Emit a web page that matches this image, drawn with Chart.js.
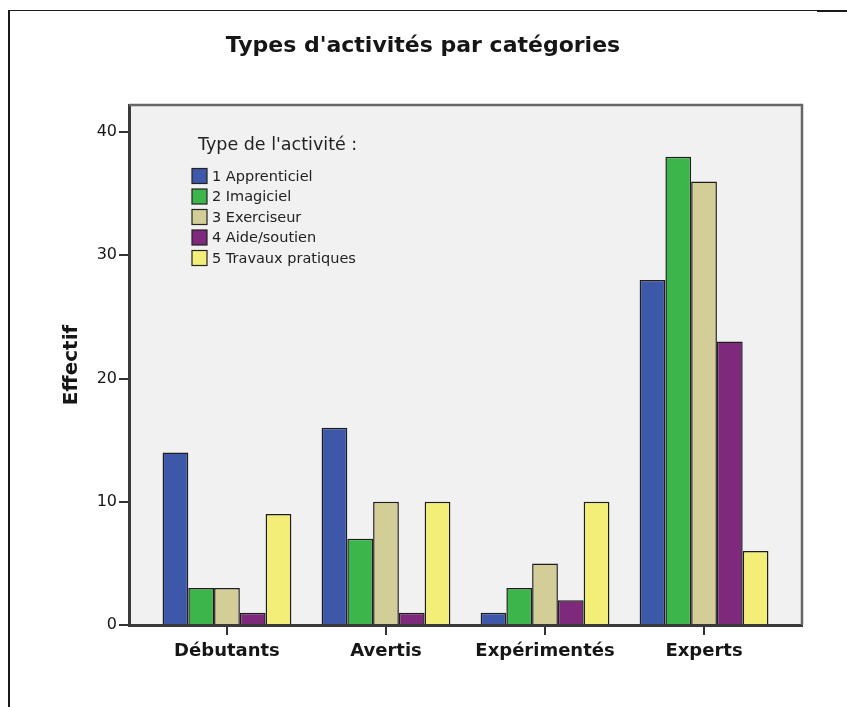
<!DOCTYPE html>
<html>
<head>
<meta charset="utf-8">
<script src="https://cdn.jsdelivr.net/npm/chart.js@4.4.1/dist/chart.umd.min.js"></script>
<style>
  html, body { margin: 0; padding: 0; background: #fff; }
  #wrap { position: relative; width: 847px; height: 707px; overflow: hidden; }
  #frame { position: absolute; left: 8px; top: 10px; width: 809px; height: 697px;
           border-left: 2px solid #1a1a1a; border-top: 1px solid #1a1a1a; }
  #frameTab { position: absolute; left: 817px; top: 10px; width: 30px; height: 2px; background: #1a1a1a; }
  canvas { position: absolute; left: 0; top: 0; }
</style>
</head>
<body>
<div id="wrap">
  <div id="frame"></div>
  <div id="frameTab"></div>
  <canvas id="chart" width="847" height="707"></canvas>
</div>
<script>
// Categories of users (x axis)
const categories = ['Débutants', 'Avertis', 'Expérimentés', 'Experts'];

// One series per activity type, values per category
const activityTypes = ['1 Apprenticiel', '2 Imagiciel', '3 Exerciseur', '4 Aide/soutien', '5 Travaux pratiques'];
const apprenticiel     = [14, 16, 1, 28];
const imagiciel        = [3, 7, 3, 38];
const exerciseur       = [3, 10, 5, 36];
const aideSoutien      = [1, 1, 2, 23];
const travauxPratiques = [9, 10, 10, 6];

const yTicks = [0, 10, 20, 30, 40];

const seriesValues = [apprenticiel, imagiciel, exerciseur, aideSoutien, travauxPratiques];
const seriesColors = ['#3d58a8', '#3cb64b', '#d3cd97', '#7e297c', '#f3ee77'];

const FONT = '"DejaVu Sans", "Liberation Sans", Arial, sans-serif';
const textColor = '#161616';

// Plot background plus the light top/right frame
const plotFrame = {
    id: 'plotFrame',
    beforeDraw(chart) {
        const { ctx, chartArea: a } = chart;
        ctx.save();
        ctx.fillStyle = '#f0f1f0';
        ctx.fillRect(a.left, a.top, a.right - a.left, a.bottom - a.top);
        ctx.restore();
    },
    afterDatasetsDraw(chart) {
        const { ctx, chartArea: a } = chart;
        ctx.save();
        ctx.strokeStyle = '#666';
        ctx.lineWidth = 2.5;
        ctx.beginPath();
        ctx.moveTo(a.left, a.top);
        ctx.lineTo(a.right, a.top);
        ctx.lineTo(a.right, a.bottom);
        ctx.stroke();
        ctx.restore();
    }
};

// Chart title and legend box inside the plot
const titleAndLegend = {
    id: 'titleAndLegend',
    afterDraw(chart) {
        const { ctx, chartArea: a } = chart;
        ctx.save();
        ctx.fillStyle = textColor;
        ctx.textAlign = 'center';
        ctx.textBaseline = 'middle';
        ctx.font = 'bold 22px ' + FONT;
        ctx.fillText("Types d'activités par catégories", 423, 46);

        const lx = a.left + 63;
        ctx.textAlign = 'left';
        ctx.fillStyle = '#222';
        ctx.font = '17.5px ' + FONT;
        ctx.fillText("Type de l'activité :", lx + 6, a.top + 40);

        ctx.font = '14.5px ' + FONT;
        chart.data.datasets.forEach((ds, i) => {
            const cy = a.top + 71 + i * 20.5;
            ctx.fillStyle = ds.backgroundColor;
            ctx.fillRect(lx, cy - 7.5, 15, 15);
            ctx.strokeStyle = '#222';
            ctx.lineWidth = 1.2;
            ctx.strokeRect(lx, cy - 7.5, 15, 15);
            ctx.fillStyle = '#222';
            ctx.fillText(ds.label, lx + 20, cy + 1);
        });
        ctx.restore();
    }
};

const datasets = activityTypes.map((label, i) => ({
    label: label,
    data: seriesValues[i].map((v, j) => ({ x: j, y: v })),
    backgroundColor: seriesColors[i],
    borderColor: '#1e1e1e',
    borderWidth: 1.5,
    categoryPercentage: 0.81,
    barPercentage: 1.0
}));

new Chart(document.getElementById('chart'), {
    type: 'bar',
    data: { datasets },
    plugins: [plotFrame, titleAndLegend],
    options: {
        responsive: false,
        animation: false,
        layout: { padding: { left: 10, right: 45, top: 105, bottom: 0 } },
        plugins: {
            legend: { display: false },
            title: { display: false },
            tooltip: { enabled: false }
        },
        scales: {
            x: {
                type: 'linear',
                min: -0.616,
                max: 3.616,
                offset: false,
                afterBuildTicks(scale) {
                    scale.ticks = categories.map((c, i) => ({ value: i }));
                },
                afterFit(scale) { scale.height = 82; },
                grid: { offset: false, drawOnChartArea: false, drawTicks: true, tickLength: 10, tickColor: '#333', lineWidth: 2 },
                border: { color: '#3a3a3a', width: 3 },
                ticks: {
                    autoSkip: false,
                    maxRotation: 0,
                    padding: 6,
                    color: textColor,
                    font: { family: FONT, size: 18, weight: 'bold' },
                    callback: v => categories[v]
                }
            },
            y: {
                min: 0,
                max: 42.2,
                afterBuildTicks(scale) {
                    scale.ticks = yTicks.map(v => ({ value: v }));
                },
                afterFit(scale) { scale.width = 119; },
                grid: { drawOnChartArea: false, drawTicks: true, tickLength: 10, tickColor: '#333', lineWidth: 2 },
                border: { color: '#3a3a3a', width: 3 },
                ticks: {
                    padding: 2,
                    color: textColor,
                    font: { family: FONT, size: 16 }
                },
                title: {
                    display: true,
                    text: 'Effectif',
                    color: textColor,
                    font: { family: FONT, size: 20, weight: 'bold' },
                    padding: { top: 50, bottom: 0 }
                }
            }
        }
    }
});
</script>
</body>
</html>
